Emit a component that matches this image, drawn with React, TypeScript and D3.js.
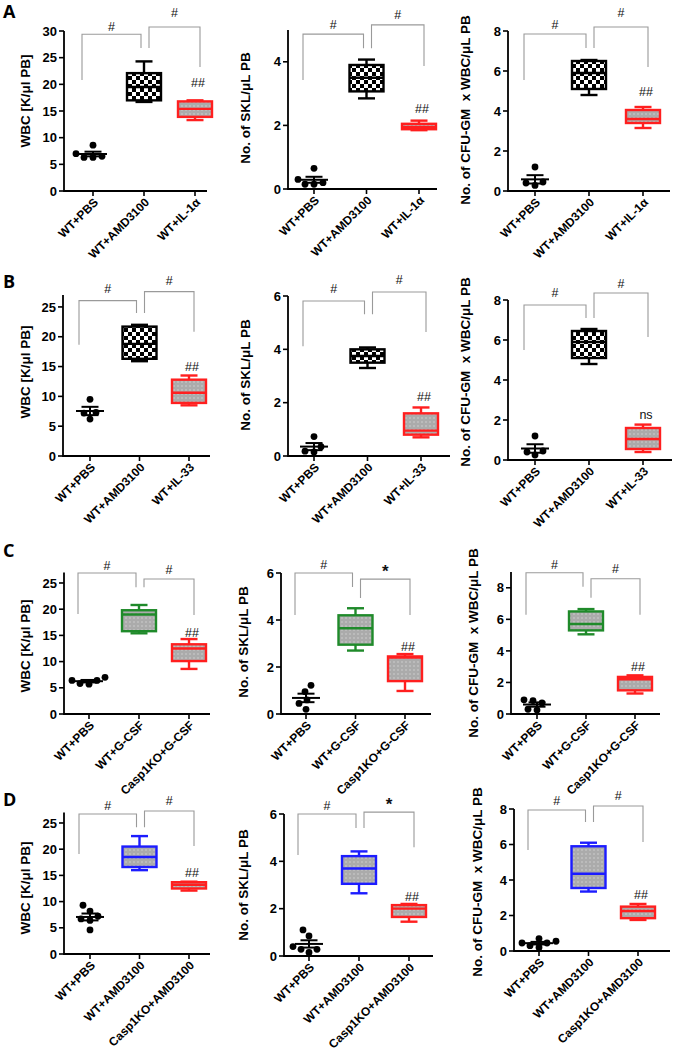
import React from "react";
import * as d3 from "d3";

// ---------- categories & labels ----------
const catsA = ["WT+PBS", "WT+AMD3100", "WT+IL-1\u03b1"];
const catsB = ["WT+PBS", "WT+AMD3100", "WT+IL-33"];
const catsC = ["WT+PBS", "WT+G-CSF", "Casp1KO+G-CSF"];
const catsD = ["WT+PBS", "WT+AMD3100", "Casp1KO+AMD3100"];

const yLabWBC = "WBC [K/\u03bcl PB]";
const yLabSKL = "No. of SKL/\u03bcL PB";
const yLabCFU = "No. of CFU-GM  x WBC/\u03bcL PB";
const rowLetters = ["A", "B", "C", "D"];

// ---------- tick values ----------
const ticksWBC30 = [0, 5, 10, 15, 20, 25, 30];
const ticksWBC = [0, 5, 10, 15, 20, 25];
const ticksSKL4 = [0, 2, 4];
const ticksSKL = [0, 2, 4, 6];
const ticksCFU = [0, 2, 4, 6, 8];

// ---------- WT+PBS individual values ----------
const dotsA1 = [6.3, 8.6, 7.0, 6.5, 6.3];
const dotsA2 = [0.15, 0.65, 0.3, 0.2, 0.15];
const dotsA3 = [0.28, 1.2, 0.45, 0.4];
const dotsB1 = [6.2, 9.5, 7.2, 7.3];
const dotsB2 = [0.15, 0.73, 0.35, 0.18];
const dotsB3 = [0.25, 1.2, 0.45, 0.4];
const dotsC1 = [7.0, 5.7, 6.4, 5.8, 6.4];
const dotsC2 = [1.22, 0.95, 0.6, 0.45, 0.2];
const dotsC3 = [0.9, 0.25, 0.7, 0.85, 0.3];
const dotsD1 = [9.3, 8.2, 6.7, 6.4, 7.2, 4.6];
const dotsD2 = [0.15, 1.1, 0.85, 0.4, 0.28, 0.28];
const dotsD3 = [0.3, 0.55, 0.45, 0.7, 0.2, 0.45];

// ---------- box stats [min, q1, median, q3, max] ----------
const boxesA1 = [[16.7, 17.0, 19.5, 22.1, 24.3], [13.3, 13.9, 15.4, 16.8, 17.0]];
const boxesA2 = [[2.85, 3.07, 3.5, 3.9, 4.07], [1.85, 1.88, 1.95, 2.05, 2.15]];
const boxesA3 = [[4.8, 5.1, 5.9, 6.5, 6.55], [3.15, 3.4, 3.6, 4.05, 4.2]];
const boxesB1 = [[15.9, 16.3, 18.8, 21.7, 22.0], [8.5, 8.9, 10.6, 12.8, 13.5]];
const boxesB2 = [[3.3, 3.5, 3.75, 4.0, 4.07], [0.7, 0.8, 0.95, 1.6, 1.82]];
const boxesB3 = [[4.8, 5.1, 5.9, 6.45, 6.55], [0.4, 0.55, 1.05, 1.6, 1.77]];
const boxesC1 = [[15.4, 15.8, 19.0, 19.8, 20.8], [8.6, 10.1, 12.5, 13.3, 14.3]];
const boxesC2 = [[2.7, 2.95, 3.65, 4.2, 4.5], [0.98, 1.4, 2.4, 2.45, 2.55]];
const boxesC3 = [[5.05, 5.3, 5.7, 6.5, 6.65], [1.3, 1.5, 2.2, 2.35, 2.45]];
const boxesD1 = [[16.0, 16.6, 18.5, 20.5, 22.5], [12.1, 12.5, 13.2, 13.7, 13.8]];
const boxesD2 = [[2.65, 3.05, 3.7, 4.22, 4.42], [1.45, 1.65, 2.0, 2.15, 2.2]];
const boxesD3 = [[3.35, 3.55, 4.35, 5.9, 6.1], [1.75, 1.85, 2.25, 2.5, 2.65]];

// ---------- significance labels ----------
const bracketLabelsHash = ["#", "#"];
const bracketLabelsStar = ["#", "*"];
const sigHash = "##";
const sigNs = "ns";

// ---------- layout (pixels) & annotation heights (data units) ----------
type Geo = { ax: number; y0: number; top: number; yMax: number; cx: [number, number]; right: number; lab: [number, number] };
type Panel = {
  cats: string[]; ylab: string; ticks: number[]; dots: number[]; boxes: number[][];
  styles: [string, string]; geo: Geo;
  br: number[][]; brLab: string[]; sig: string; sigY: number;
};

const RED = "#ff1f1f", GREEN = "#1f8a2a", BLUE = "#1c1cff", BLACK = "#000";

const panels: Panel[] = [
  { cats: catsA, ylab: yLabWBC, ticks: ticksWBC30, dots: dotsA1, boxes: boxesA1, styles: [BLACK, RED],
    geo: { ax: 64, y0: 191, top: 31, yMax: 30, cx: [93, 195], right: 207, lab: [25, 101] },
    br: [[29.4, 20.8, 26.8, 30.9], [30.75, 26.8, 23.25, 33.4]], brLab: bracketLabelsHash, sig: sigHash, sigY: 20.3 },
  { cats: catsA, ylab: yLabSKL, ticks: ticksSKL4, dots: dotsA2, boxes: boxesA2, styles: [BLACK, RED],
    geo: { ax: 288, y0: 189, top: 30, yMax: 5, cx: [314, 419], right: 437, lab: [245, 108] },
    br: [[4.87, 3.43, 4.43, 5.16], [5.16, 4.43, 3.87, 5.47]], brLab: bracketLabelsHash, sig: sigHash, sigY: 2.52 },
  { cats: catsA, ylab: yLabCFU, ticks: ticksCFU, dots: dotsA3, boxes: boxesA3, styles: [BLACK, RED],
    geo: { ax: 508, y0: 191, top: 31, yMax: 8, cx: [535, 643], right: 670, lab: [465, 110] },
    br: [[7.85, 5.55, 7.15, 8.3], [8.2, 7.15, 6.2, 8.9]], brLab: bracketLabelsHash, sig: sigHash, sigY: 4.95 },
  { cats: catsB, ylab: yLabWBC, ticks: ticksWBC, dots: dotsB1, boxes: boxesB1, styles: [BLACK, RED],
    geo: { ax: 63, y0: 456, top: 295, yMax: 27, cx: [90, 189], right: 210, lab: [25, 372] },
    br: [[26.05, 18.65, 24.0, 28.07], [27.56, 24.0, 20.84, 29.4]], brLab: bracketLabelsHash, sig: sigHash, sigY: 14.96 },
  { cats: catsB, ylab: yLabSKL, ticks: ticksSKL, dots: dotsB2, boxes: boxesB2, styles: [BLACK, RED],
    geo: { ax: 288, y0: 456, top: 296, yMax: 6, cx: [314, 421], right: 450, lab: [245, 375] },
    br: [[5.81, 4.12, 5.32, 6.26], [6.15, 5.32, 4.65, 6.6]], brLab: bracketLabelsHash, sig: sigHash, sigY: 2.21 },
  { cats: catsB, ylab: yLabCFU, ticks: ticksCFU, dots: dotsB3, boxes: boxesB3, styles: [BLACK, RED],
    geo: { ax: 508, y0: 460, top: 300, yMax: 8, cx: [535, 643], right: 672, lab: [465, 372] },
    br: [[7.75, 5.5, 7.1, 8.35], [8.35, 7.1, 6.15, 8.8]], brLab: bracketLabelsHash, sig: sigNs, sigY: 2.25 },
  { cats: catsC, ylab: yLabWBC, ticks: ticksWBC, dots: dotsC1, boxes: boxesC1, styles: [GREEN, RED],
    geo: { ax: 64, y0: 714, top: 572.5, yMax: 27, cx: [89, 189], right: 210, lab: [25, 646] },
    br: [[26.9, 19.1, 24.2, 28.4], [25.76, 24.2, 18.9, 27.5]], brLab: bracketLabelsHash, sig: sigHash, sigY: 15.6 },
  { cats: catsC, ylab: yLabSKL, ticks: ticksSKL, dots: dotsC2, boxes: boxesC2, styles: [GREEN, RED],
    geo: { ax: 281, y0: 714, top: 573, yMax: 6, cx: [306, 405], right: 431, lab: [243, 642] },
    br: [[6.0, 4.21, 5.4, 6.34], [5.74, 4.94, 4.21, 6.1]], brLab: bracketLabelsStar, sig: sigHash, sigY: 2.85 },
  { cats: catsC, ylab: yLabCFU, ticks: ticksCFU, dots: dotsC3, boxes: boxesC3, styles: [GREEN, RED],
    geo: { ax: 511, y0: 714, top: 572, yMax: 9, cx: [537, 635], right: 660, lab: [473, 643] },
    br: [[8.95, 6.29, 8.06, 9.46], [8.57, 7.37, 6.29, 9.2]], brLab: bracketLabelsHash, sig: sigHash, sigY: 2.98 },
  { cats: catsD, ylab: yLabWBC, ticks: ticksWBC, dots: dotsD1, boxes: boxesD1, styles: [BLUE, RED],
    geo: { ax: 64, y0: 954, top: 812.5, yMax: 27, cx: [90, 189], right: 210, lab: [25, 888] },
    br: [[26.7, 19.1, 24.2, 28.4], [27.3, 24.2, 20.6, 29.2]], brLab: bracketLabelsHash, sig: sigHash, sigY: 15.5 },
  { cats: catsD, ylab: yLabSKL, ticks: ticksSKL, dots: dotsD2, boxes: boxesD2, styles: [BLUE, RED],
    geo: { ax: 284, y0: 956, top: 814, yMax: 6, cx: [309, 409], right: 433, lab: [243, 885] },
    br: [[6.0, 4.27, 5.41, 6.34], [6.08, 5.41, 4.6, 6.4]], brLab: bracketLabelsStar, sig: sigHash, sigY: 2.49 },
  { cats: catsD, ylab: yLabCFU, ticks: ticksCFU, dots: dotsD3, boxes: boxesD3, styles: [BLUE, RED],
    geo: { ax: 514, y0: 951, top: 809, yMax: 8, cx: [539, 638], right: 670, lab: [477, 882] },
    br: [[7.94, 5.69, 7.27, 8.5], [8.17, 7.27, 6.14, 8.73]], brLab: bracketLabelsHash, sig: sigHash, sigY: 3.2 },
];

const letterY = [18, 288, 557, 806];

const FONT = "'Liberation Sans', Arial, sans-serif";
const R = 3.4;

function swarm(vals: number[], yf: (v: number) => number, cx: number) {
  const order = vals.map((v, i) => ({ v, i })).sort((a, b) => a.v - b.v);
  const placed: { x: number; y: number }[] = [];
  const out: { x: number; y: number }[] = [];
  const minD = 2 * R + 1.6;
  for (const { v, i } of order) {
    const py = yf(v);
    let px = cx;
    for (let k = 0; k < 60; k++) {
      const off = k === 0 ? 0 : (k % 2 === 1 ? -1 : 1) * Math.ceil(k / 2);
      const tx = cx + off;
      if (placed.every((p) => Math.hypot(p.x - tx, p.y - py) >= minD)) { px = tx; break; }
    }
    placed.push({ x: px, y: py });
    out[i] = { x: px, y: py };
  }
  return out;
}

function PanelView({ p }: { p: Panel }) {
  const g = p.geo;
  const y = d3.scaleLinear().domain([0, g.yMax]).range([g.y0, g.top]);
  const x = d3.scalePoint<string>().domain(p.cats).range(g.cx);
  const cxs = p.cats.map((c) => x(c) as number);
  const pts = swarm(p.dots, y, cxs[0]);
  const mean = d3.mean(p.dots) as number;
  const sem = (d3.deviation(p.dots) as number) / Math.sqrt(p.dots.length);
  const bw = 34, cap = 17, mw = 28;
  const brX = [[cxs[0] - 11, cxs[1] - 3], [cxs[1] + 5, cxs[2] + 5]];
  return (
    <g fontFamily={FONT}>
      {/* brackets */}
      {p.br.map((b, i) => {
        const [xl, xr] = brX[i];
        return (
          <g key={"b" + i}>
            <path d={`M${xl},${y(b[1])}V${y(b[0])}H${xr}V${y(b[2])}`} fill="none" stroke="#9a9a9a" strokeWidth={1.1} />
            <text x={(xl + xr) / 2} y={y(b[3])} dy="0.35em" textAnchor="middle"
              fontSize={p.brLab[i] === "*" ? 17 : 12.5} fontWeight={p.brLab[i] === "*" ? "bold" : "normal"} fill="#111">{p.brLab[i]}</text>
          </g>
        );
      })}
      {/* axes */}
      <path d={`M${g.ax},${g.top}V${g.y0}H${g.right}`} fill="none" stroke="#000" strokeWidth={1.8} />
      {p.ticks.map((t) => (
        <g key={"t" + t}>
          <line x1={g.ax - 5} x2={g.ax} y1={y(t)} y2={y(t)} stroke="#000" strokeWidth={1.6} />
          <text x={g.ax - 7} y={y(t)} dy="0.36em" textAnchor="end" fontSize={13} fontWeight="bold">{t}</text>
        </g>
      ))}
      {cxs.map((c, i) => (
        <g key={"c" + i}>
          <line x1={c} x2={c} y1={g.y0} y2={g.y0 + 5} stroke="#000" strokeWidth={1.6} />
          <text transform={`translate(${c + 3},${g.y0 + 9}) rotate(-45)`} dy="0.35em" textAnchor="end"
            fontSize={12} fontWeight="bold">{p.cats[i]}</text>
        </g>
      ))}
      <text transform={`translate(${g.lab[0]},${g.lab[1]}) rotate(-90)`} textAnchor="middle" dominantBaseline="central"
        fontSize={13.5} fontWeight="bold" style={{ whiteSpace: "pre" }}>{p.ylab}</text>
      {/* dots + mean/SEM */}
      {pts.map((d, i) => <circle key={"d" + i} cx={d.x} cy={d.y} r={R} fill="#000" />)}
      <line x1={cxs[0] - mw / 2} x2={cxs[0] + mw / 2} y1={y(mean)} y2={y(mean)} stroke="#000" strokeWidth={2} />
      <line x1={cxs[0]} x2={cxs[0]} y1={y(mean - sem)} y2={y(mean + sem)} stroke="#000" strokeWidth={2} />
      <line x1={cxs[0] - cap / 2} x2={cxs[0] + cap / 2} y1={y(mean + sem)} y2={y(mean + sem)} stroke="#000" strokeWidth={2} />
      <line x1={cxs[0] - cap / 2} x2={cxs[0] + cap / 2} y1={y(mean - sem)} y2={y(mean - sem)} stroke="#000" strokeWidth={2} />
      {/* boxes */}
      {p.boxes.map((b, i) => {
        const c = cxs[i + 1];
        const col = p.styles[i];
        const fill = col === BLACK ? "url(#checker)" : "url(#gdots)";
        return (
          <g key={"x" + i} stroke={col} strokeWidth={2.4}>
            <line x1={c} x2={c} y1={y(b[3])} y2={y(b[4])} />
            <line x1={c} x2={c} y1={y(b[1])} y2={y(b[0])} />
            <line x1={c - cap / 2} x2={c + cap / 2} y1={y(b[4])} y2={y(b[4])} />
            <line x1={c - cap / 2} x2={c + cap / 2} y1={y(b[0])} y2={y(b[0])} />
            <rect x={c - bw / 2} y={y(b[3])} width={bw} height={y(b[1]) - y(b[3])} fill={fill} />
            <line x1={c - bw / 2} x2={c + bw / 2} y1={y(b[2])} y2={y(b[2])} />
          </g>
        );
      })}
      <text x={cxs[2] + 3} y={y(p.sigY)} dy="0.35em" textAnchor="middle" fontSize={12.5} fill="#111">{p.sig}</text>
    </g>
  );
}

export default function App() {
  return (
    <svg width={673} height={1050} style={{ position: "absolute", left: 0, top: 0, background: "#fff" }}>
      <defs>
        <pattern id="checker" width={8} height={8} patternUnits="userSpaceOnUse">
          <rect width={8} height={8} fill="#000" />
          <rect x={0} y={0} width={4} height={4} fill="#fff" />
          <rect x={4} y={4} width={4} height={4} fill="#fff" />
        </pattern>
        <pattern id="gdots" width={4} height={4} patternUnits="userSpaceOnUse">
          <rect width={4} height={4} fill="#ababab" />
          <circle cx={2} cy={2} r={0.7} fill="#d8d8d8" />
        </pattern>
      </defs>
      <rect width={673} height={1050} fill="#fff" />
      {rowLetters.map((l, i) => (
        <text key={l} x={3} y={letterY[i]} fontFamily="'Open Sans', sans-serif" fontWeight="bold" fontSize={18}>{l}</text>
      ))}
      {panels.map((p, i) => <PanelView key={i} p={p} />)}
    </svg>
  );
}
